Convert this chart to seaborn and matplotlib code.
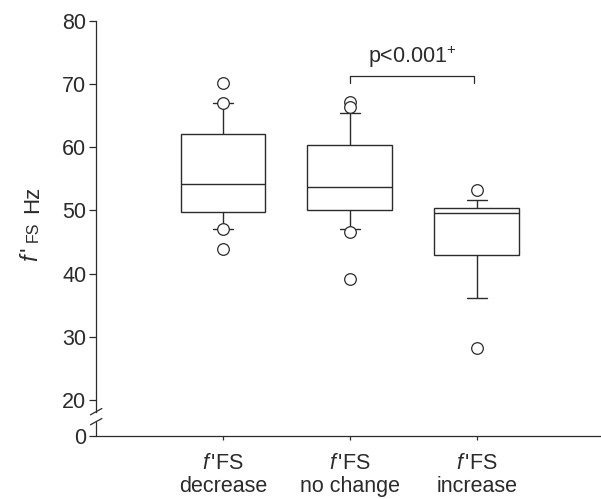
import pandas as pd
import seaborn as sns
import matplotlib.pyplot as plt

# box summaries (whiskers, quartiles, median)
groups = ["decrease", "no change", "increase"]
whisker_low = [47.1, 47.1, 36.1]
q1 = [49.8, 50.1, 43.0]
median = [54.2, 53.7, 49.65]
q3 = [62.1, 60.4, 50.4]
whisker_high = [67.0, 65.5, 51.7]

# individual circles
out_group = ["decrease", "decrease", "decrease", "decrease",
             "no change", "no change", "no change", "no change",
             "increase", "increase"]
out_value = [70.2, 67.0, 47.1, 43.9,
             67.2, 66.3, 46.6, 39.2,
             53.2, 28.3]

yticks = [20, 30, 40, 50, 60, 70, 80]
zero_pos = 14.3  # where "0" sits below the axis break

# 5 values per group -> percentiles 0/25/50/75/100 give the box exactly
rows = []
for g, a, b, c, d, e in zip(groups, whisker_low, q1, median, q3, whisker_high):
    for v in (a, b, c, d, e):
        rows.append({"group": g, "value": v})
df = pd.DataFrame(rows)
df_out = pd.DataFrame({"group": out_group, "value": out_value})

sns.set_style("ticks")
plt.rcParams["font.family"] = ["Liberation Sans", "DejaVu Sans"]
plt.rcParams["mathtext.fontset"] = "custom"
plt.rcParams["mathtext.rm"] = "Liberation Sans"
plt.rcParams["mathtext.it"] = "Liberation Sans:italic"

ink = "#2b2b2b"
W, H = 601, 499
fig = plt.figure(figsize=(W / 100, H / 100), dpi=100)
ax = fig.add_axes([0.16, 0.1263, 0.84, 0.8317])

sns.boxplot(data=df, x="group", y="value", order=groups, whis=(0, 100),
            width=0.67, color="white", linecolor=ink, linewidth=1.0,
            showfliers=False, capwidths=0.16, ax=ax)
sns.scatterplot(data=df_out, x="group", y="value", marker="o", s=70,
                facecolor="white", edgecolor=ink, linewidth=0.9,
                zorder=5, ax=ax, legend=False)

ax.set_xlim(-1, 2.98)
ax.set_ylim(zero_pos, 80)
ax.set_yticks([zero_pos] + yticks)
ax.set_yticklabels(["0"] + [str(t) for t in yticks])
ax.set_xticks(range(len(groups)))
ax.set_xticklabels([r"$f\,$'FS" + "\n" + g for g in groups], linespacing=1.12)
ax.tick_params(axis="y", length=5, width=0.9, pad=2, labelsize=15.5, colors=ink)
ax.tick_params(axis="x", length=3, width=0.9, pad=9, labelsize=15.5, colors=ink)
ax.set_xlabel("")
ax.set_ylabel("")

# y label built from pieces so "FS" can be smaller
lab = dict(rotation=90, rotation_mode="anchor", ha="left", va="baseline",
           color=ink)
fig.text(38 / W, 1 - 262 / H, r"$f\,$'", fontsize=17, **lab)
fig.text(38 / W, 1 - 242 / H, "FS", fontsize=11.5, **lab)
fig.text(38 / W, 1 - 213 / H, "Hz", fontsize=16, **lab)

for s in ["top", "right"]:
    ax.spines[s].set_visible(False)
for s in ["left", "bottom"]:
    ax.spines[s].set_color(ink)
    ax.spines[s].set_linewidth(0.9)

# broken y axis
ax.spines["left"].set_bounds(18.15, 80)
ax.plot([-1, -1], [zero_pos, 16.57], color=ink, lw=0.9, clip_on=False)
for yb in (18.15, 16.57):
    ax.plot([-1.045, -0.955], [yb - 0.5, yb + 0.5], color=ink, lw=0.9,
            clip_on=False)

# significance bracket
ax.plot([1.0, 1.0, 1.98, 1.98], [70.2, 71.3, 71.3, 70.2], color=ink, lw=0.9)
ax.text(1.49, 73.3, "p<0.001$^{+}$", ha="center", va="baseline",
        fontsize=15.5, color=ink)

plt.savefig("out.png", dpi=100)
